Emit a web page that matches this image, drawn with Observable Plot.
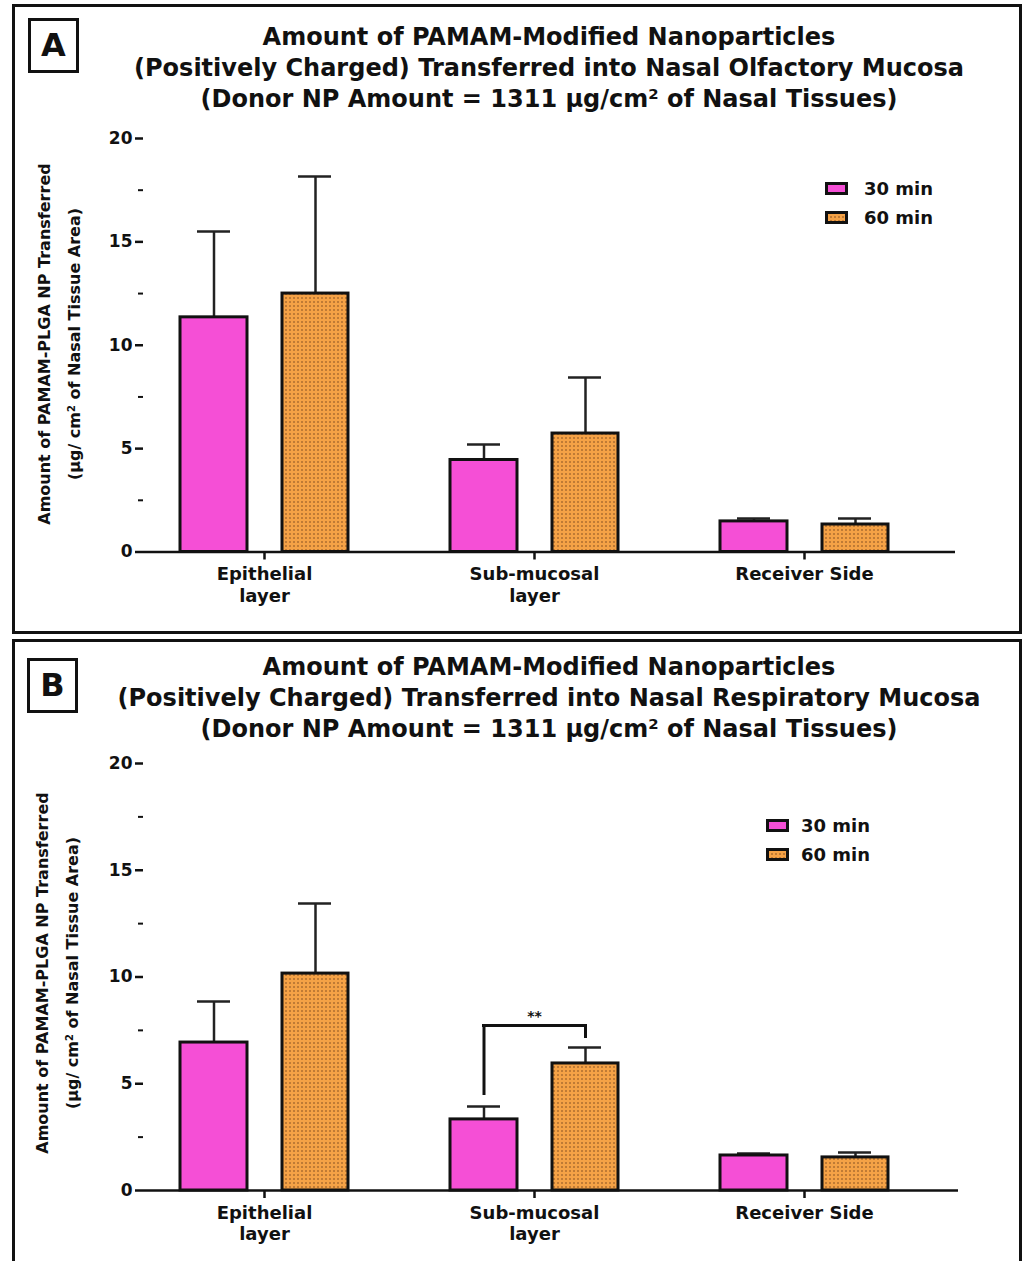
<!DOCTYPE html>
<html>
<head>
<meta charset="utf-8">
<script src="https://cdn.jsdelivr.net/npm/d3@7"></script>
<script src="https://cdn.jsdelivr.net/npm/@observablehq/plot@0.6"></script>
<style>
  html, body { margin: 0; padding: 0; background: #fff; overflow: hidden; }
  #page { position: relative; width: 1025px; height: 1261px; overflow: hidden; font-family: "DejaVu Sans", sans-serif; font-weight: bold; color: #111; }
  .panel { position: absolute; box-sizing: border-box; border: 3px solid #111; }
  .letter { position: absolute; box-sizing: border-box; border: 3px solid #111; width: 51px; height: 55px; font-size: 32px; line-height: 49px; text-align: center; }
  .title { position: absolute; left: 69px; width: 960px; text-align: center; font-size: 24px; line-height: 31px; white-space: nowrap; }
  .ylabel { position: absolute; transform: translate(-50%, -50%) rotate(-90deg); white-space: nowrap; text-align: center; font-size: 16px; line-height: 30px; }
  sup { font-size: 0.62em; line-height: 0; vertical-align: 0.55em; }
  .legend { position: absolute; font-size: 18px; }
  .legend .row { display: flex; align-items: center; height: 29px; white-space: nowrap; }
  .legend svg { margin-right: 16px; }
  .chart { position: absolute; left: 0; }
</style>
</head>
<body>
<svg width="0" height="0" style="position:absolute">
  <defs>
    <pattern id="dots" width="4" height="4" patternUnits="userSpaceOnUse">
      <rect width="4" height="4" fill="#f5a246"></rect>
      <rect x="1.3" y="1.3" width="1.4" height="1.4" fill="#8a5222"></rect>
    </pattern>
  </defs>
</svg>
<div id="page"></div>
<script>
// ---------- data ----------
const categories = ["Epithelial layer", "Sub-mucosal layer", "Receiver Side"];
const tickLabels = ["Epithelial\nlayer", "Sub-mucosal\nlayer", "Receiver Side"];
const seriesNames = ["30 min", "60 min"];
const seriesColors = ["#f54fd6", "url(#dots)"];
const yTicks = [0, 5, 10, 15, 20];
const yMinorTicks = [2.5, 7.5, 12.5, 17.5];

// Panel A: olfactory mucosa (mean, SD)
const olfactory30 = [11.35, 4.45, 1.48];
const olfactory30sd = [4.15, 0.75, 0.14];
const olfactory60 = [12.5, 5.73, 1.33];
const olfactory60sd = [5.66, 2.71, 0.29];

// Panel B: respiratory mucosa (mean, SD)
const respiratory30 = [6.93, 3.33, 1.64];
const respiratory30sd = [1.92, 0.6, 0.09];
const respiratory60 = [10.16, 5.95, 1.55];
const respiratory60sd = [3.28, 0.75, 0.23];

// Significance bracket in panel B (Sub-mucosal layer, 30 vs 60 min)
const sigCategory = "Sub-mucosal layer";
const sigLeftLow = 4.45, sigTop = 7.73, sigRightLow = 7.12, sigTextY = 8.15;
const sigLabel = "**";

const panelTitles = {
  A: ["Amount of PAMAM-Modified Nanoparticles",
      "(Positively Charged) Transferred into Nasal Olfactory Mucosa",
      "(Donor NP Amount = 1311 μg/cm<sup>2</sup> of Nasal Tissues)"],
  B: ["Amount of PAMAM-Modified Nanoparticles",
      "(Positively Charged) Transferred into Nasal Respiratory Mucosa",
      "(Donor NP Amount = 1311 μg/cm<sup>2</sup> of Nasal Tissues)"]
};
const yLabelLines = ["Amount of PAMAM-PLGA NP Transferred", "(μg/ cm<sup>2</sup> of Nasal Tissue Area)"];

// ---------- helpers ----------
function rows(vals, sds, series) {
  return categories.map((c, i) => ({cat: c, series, value: vals[i], top: vals[i] + sds[i]}));
}

function makeChart({d30, d60, height, marginBottom, marginRight, sig}) {
  const marks = [
    Plot.ruleY([0], {stroke: "#111", strokeWidth: 2.5}),
    Plot.axisY({ticks: yTicks, tickSize: 8, tickPadding: 3, label: null, line: true, stroke: "#111", strokeWidth: 2.5, fontSize: 17}),
    Plot.axisY({ticks: yMinorTicks, tickSize: 5, tickFormat: () => "", label: null, stroke: "#111", strokeWidth: 2}),
    Plot.axisX({tickSize: 8, tickPadding: 5, label: null, stroke: "#111", strokeWidth: 2.5, fontSize: 18, lineHeight: 1.2,
      tickFormat: d => tickLabels[categories.indexOf(d)]}),
    // error bars (upper)
    Plot.ruleX(d30, {x: "cat", y1: "value", y2: "top", dx: -50.5, stroke: "#222", strokeWidth: 2.5}),
    Plot.tickY(d30, {x: "cat", y: "top", insetLeft: 68, insetRight: 169, stroke: "#222", strokeWidth: 2.5}),
    Plot.ruleX(d60, {x: "cat", y1: "value", y2: "top", dx: 51, stroke: "#222", strokeWidth: 2.5}),
    Plot.tickY(d60, {x: "cat", y: "top", insetLeft: 169, insetRight: 68, stroke: "#222", strokeWidth: 2.5}),
    // bars
    Plot.barY(d30, {x: "cat", y: "value", fill: seriesColors[0], stroke: "#111", strokeWidth: 3, insetLeft: 51, insetRight: 152}),
    Plot.barY(d60, {x: "cat", y: "value", fill: seriesColors[1], stroke: "#111", strokeWidth: 3, insetLeft: 153, insetRight: 51})
  ];
  if (sig) {
    const s = [{cat: sigCategory, leftLow: sigLeftLow, top: sigTop, rightLow: sigRightLow, ty: sigTextY, label: sigLabel}];
    marks.push(
      Plot.ruleX(s, {x: "cat", y1: "leftLow", y2: "top", dx: -50.5, stroke: "#111", strokeWidth: 3}),
      Plot.ruleX(s, {x: "cat", y1: "rightLow", y2: "top", dx: 51, stroke: "#111", strokeWidth: 3}),
      Plot.tickY(s, {x: "cat", y: "top", insetLeft: 83, insetRight: 82, stroke: "#111", strokeWidth: 3}),
      Plot.text(s, {x: "cat", y: "ty", text: "label", fontSize: 14, fill: "#111"})
    );
  }
  return Plot.plot({
    width: 1025, height, marginLeft: 143, marginRight, marginTop: 18, marginBottom,
    style: {fontFamily: "'DejaVu Sans', sans-serif", fontWeight: "bold", fontSize: "18px", color: "#111", background: "transparent", overflow: "visible"},
    x: {domain: categories, range: [129, 939], padding: 0},
    y: {domain: [0, 20]},
    marks
  });
}

function legendSwatch(fill) {
  return `<svg width="23" height="13"><rect x="1.5" y="1.5" width="20" height="10" fill="${fill}" stroke="#111" stroke-width="3"></rect></svg>`;
}

function addPanel(key, cfg) {
  const page = document.getElementById("page");
  const panel = document.createElement("div");
  panel.className = "panel";
  Object.assign(panel.style, cfg.frame);
  page.appendChild(panel);

  const letter = document.createElement("div");
  letter.className = "letter";
  letter.textContent = key;
  Object.assign(letter.style, cfg.letter);
  page.appendChild(letter);

  const title = document.createElement("div");
  title.className = "title";
  title.style.top = cfg.titleTop + "px";
  title.innerHTML = panelTitles[key].join("<br>");
  page.appendChild(title);

  const yl = document.createElement("div");
  yl.className = "ylabel";
  yl.style.left = cfg.ylabel[0] + "px";
  yl.style.top = cfg.ylabel[1] + "px";
  yl.innerHTML = yLabelLines.join("<br>");
  page.appendChild(yl);

  const chart = cfg.chart;
  chart.classList.add("chart");
  chart.style.position = "absolute";
  chart.style.top = cfg.chartTop + "px";
  chart.style.left = "0px";
  page.appendChild(chart);

  const lg = document.createElement("div");
  lg.className = "legend";
  lg.style.left = cfg.legend[0] + "px";
  lg.style.top = cfg.legend[1] + "px";
  lg.innerHTML = seriesNames.map((n, i) =>
    `<div class="row">${legendSwatch(seriesColors[i])}<span style="margin-left:${cfg.legendGap}px">${n}</span></div>`).join("");
  page.appendChild(lg);
}

addPanel("A", {
  frame: {left: "12px", top: "4px", width: "1010px", height: "630px"},
  letter: {left: "28px", top: "18px"},
  titleTop: 22,
  ylabel: [60, 344],
  chartTop: 120,
  chart: makeChart({d30: rows(olfactory30, olfactory30sd, "30 min"), d60: rows(olfactory60, olfactory60sd, "60 min"),
    height: 510, marginBottom: 78.5, marginRight: 70, sig: false}),
  legend: [825, 174],
  legendGap: 0
});

addPanel("B", {
  frame: {left: "12px", top: "639px", width: "1010px", height: "640px"},
  letter: {left: "27px", top: "658px"},
  titleTop: 652,
  ylabel: [58, 973],
  chartTop: 745,
  chart: makeChart({d30: rows(respiratory30, respiratory30sd, "30 min"), d60: rows(respiratory60, respiratory60sd, "60 min"),
    height: 515, marginBottom: 70, marginRight: 67, sig: true}),
  legend: [766, 811],
  legendGap: -4
});
</script>
</body>
</html>
